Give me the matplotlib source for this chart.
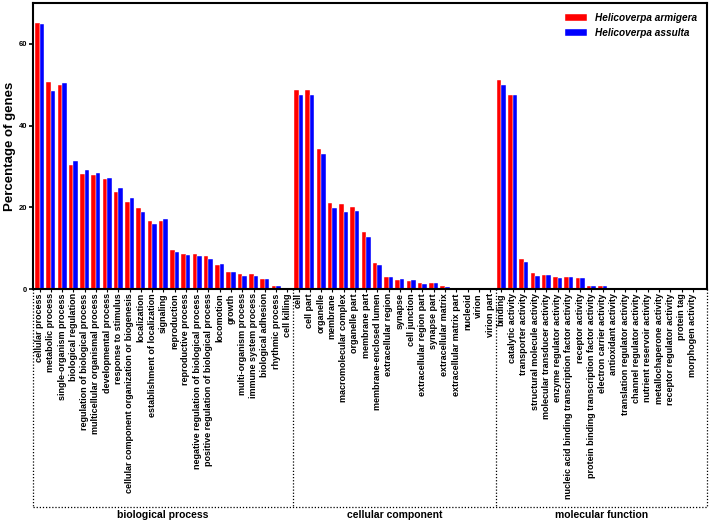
import numpy as np
import matplotlib
matplotlib.use("Agg")
import matplotlib.pyplot as plt
from matplotlib.transforms import blended_transform_factory

plt.rcParams['font.family'] = ['Liberation Sans', 'DejaVu Sans']
plt.rcParams['font.weight'] = 'bold'

# ---- data ----
bp_terms = ["cellular process", "metabolic process", "single-organism process",
            "biological regulation", "regulation of biological process",
            "multicellular organismal process", "developmental process",
            "response to stimulus", "cellular component organization or biogenesis",
            "localization", "establishment of localization", "signaling",
            "reproduction", "reproductive process",
            "negative regulation of biological process",
            "positive regulation of biological process", "locomotion", "growth",
            "multi-organism process", "immune system process",
            "biological adhesion", "rhythmic process", "cell killing"]
bp_armigera = [65.1, 50.7, 49.9, 30.5, 28.2, 27.9, 26.9, 23.9, 21.3, 19.8, 16.8, 16.6,
               9.6, 8.7, 8.7, 8.0, 5.8, 4.3, 3.6, 3.6, 2.4, 0.9, 0.05]
bp_assulta = [64.8, 48.5, 50.5, 31.4, 29.1, 28.4, 27.3, 24.7, 22.2, 19.0, 16.0, 17.1,
              9.2, 8.4, 8.2, 7.4, 6.1, 4.1, 3.3, 3.3, 2.4, 0.9, 0.05]

cc_terms = ["cell", "cell part", "organelle", "membrane", "macromolecular complex",
            "organelle part", "membrane part", "membrane-enclosed lumen",
            "extracellular region", "synapse", "cell junction",
            "extracellular region part", "synapse part", "extracellular matrix",
            "extracellular matrix part", "nucleoid", "virion", "virion part"]
cc_armigera = [48.7, 48.7, 34.2, 21.2, 20.9, 20.1, 14.1, 6.5, 3.1, 2.3, 1.9, 1.6, 1.6,
               0.7, 0.05, 0.02, 0.02, 0.02]
cc_assulta = [47.4, 47.4, 33.2, 19.8, 19.0, 19.2, 12.7, 6.0, 2.9, 2.5, 2.3, 1.2, 1.4,
              0.6, 0.05, 0.02, 0.02, 0.02]

mf_terms = ["binding", "catalytic activity", "transporter activity",
            "structural molecule activity", "molecular transducer activity",
            "enzyme regulator activity",
            "nucleic acid binding transcription factor activity", "receptor activity",
            "protein binding transcription factor activity", "electron carrier activity",
            "antioxidant activity", "translation regulator activity",
            "channel regulator activity", "nutrient reservoir activity",
            "metallochaperone activity", "receptor regulator activity", "protein tag",
            "morphogen activity"]
mf_armigera = [51.3, 47.6, 7.4, 3.9, 3.5, 3.1, 3.1, 2.8, 0.9, 0.8, 0.4, 0.05, 0.05,
               0.02, 0.02, 0.02, 0.02, 0.02]
mf_assulta = [49.9, 47.4, 6.6, 3.3, 3.5, 2.8, 3.1, 2.7, 0.9, 0.7, 0.3, 0.05, 0.05,
              0.02, 0.02, 0.02, 0.02, 0.02]

groups = ["biological process", "cellular component", "molecular function"]

terms = bp_terms + cc_terms + mf_terms
armigera = bp_armigera + cc_armigera + mf_armigera
assulta = bp_assulta + cc_assulta + mf_assulta
sizes = [len(bp_terms), len(cc_terms), len(mf_terms)]

x = np.arange(len(terms))
w = 0.4

fig = plt.figure(figsize=(7.09, 5.22), dpi=100)
ax = fig.add_axes([0.047, 0.446, 0.950, 0.548])

ax.bar(x - w / 2, armigera, w, color='#ff0000', edgecolor='white', linewidth=0.3,
       label='Helicoverpa armigera')
ax.bar(x + w / 2, assulta, w, color='#0000ff', edgecolor='white', linewidth=0.3,
       label='Helicoverpa assulta')

xmin, xmax = -0.55, len(terms) + 0.25
ax.set_xlim(xmin, xmax)
ax.set_ylim(0, 70)
ax.set_yticks([0, 20, 40, 60])
ax.set_xticks(x)
ax.set_xticklabels(terms, rotation=90, fontsize=6.5, fontweight='bold')
ax.tick_params(axis='y', labelsize=5.5, width=1.2, length=3, pad=1.5)
ax.tick_params(axis='x', width=0.8, length=2, pad=1)
for s in ax.spines.values():
    s.set_linewidth(1.5)
ax.set_ylabel("Percentage of genes", fontsize=9.5, fontweight='bold', labelpad=2)

leg = ax.legend(loc='upper right', frameon=False, fontsize=7.2,
                handlelength=2.2, handleheight=0.8, borderaxespad=0.6)
for t in leg.get_texts():
    t.set_fontstyle('italic')
    t.set_fontweight('bold')

# dotted group boxes below the axis
trans = blended_transform_factory(ax.transData, ax.transAxes)
ybot = -0.762
edges = [xmin, sizes[0] - 0.5, sizes[0] + sizes[1] - 0.5, xmax]
for e in edges:
    ax.plot([e, e], [0, ybot], transform=trans, clip_on=False, color='black',
            linestyle=(0, (1, 1.5)), linewidth=0.9)
ax.plot([edges[0], edges[-1]], [ybot, ybot], transform=trans, clip_on=False,
        color='black', linestyle=(0, (1, 1.5)), linewidth=0.9)
for i, g in enumerate(groups):
    ax.text((edges[i] + edges[i + 1]) / 2, ybot - 0.01, g, transform=trans,
            ha='center', va='top', fontsize=7.5, fontweight='bold')

fig.savefig("out.png", dpi=100)
